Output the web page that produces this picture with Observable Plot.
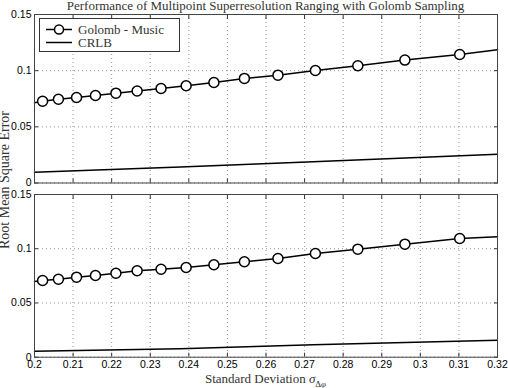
<!DOCTYPE html>
<html>
<head>
<meta charset="utf-8">
<script src="https://cdn.jsdelivr.net/npm/d3@7"></script>
<script src="https://cdn.jsdelivr.net/npm/@observablehq/plot@0.6"></script>
<style>
  html, body { margin: 0; padding: 0; background: #fff; }
  #wrap { position: relative; width: 508px; height: 388px; overflow: hidden; }
  .abs { position: absolute; }
  .serif { font-family: "Liberation Serif", "DejaVu Serif", serif; color: #333; }
  #title { left: 34px; width: 463px; top: -2px; text-align: center; font-size: 13px; line-height: 15px; white-space: nowrap; }
  #ylab { left: 4.8px; top: 180px; transform: translate(-50%, -50%) rotate(-90deg); font-size: 14px; white-space: nowrap; }
  #xlab { left: 34px; width: 463px; top: 371px; text-align: center; font-size: 13px; line-height: 15px; white-space: nowrap; }
  #xlab sub { font-size: 9px; }
  #legend { left: 39px; top: 18px; width: 139px; height: 32px; border: 1px solid #333; background: #fff; font-size: 13px; }
  .lrow { position: absolute; left: 5px; height: 13px; display: flex; align-items: center; }
  .lrow span { margin-left: 5px; }
  #p1 { left: 0; top: 0; }
  #p2 { left: 0; top: 188px; }
</style>
</head>
<body>
<div id="wrap">
  <div id="p1" class="abs"></div>
  <div id="p2" class="abs"></div>
  <div id="title" class="abs serif">Performance of Multipoint Superresolution Ranging with Golomb Sampling</div>
  <div id="ylab" class="abs serif">Root Mean Square Error</div>
  <div id="xlab" class="abs serif">Standard Deviation <i>σ</i><sub>Δ<i>φ</i></sub></div>
  <div id="legend" class="abs serif">
    <div class="lrow" style="top:4px"><svg width="28" height="13"><line x1="1" x2="27" y1="6.5" y2="6.5" stroke="#000" stroke-width="1.5"/><circle cx="14" cy="6.5" r="4.5" fill="#fff" stroke="#000" stroke-width="1.5"/></svg><span>Golomb - Music</span></div>
    <div class="lrow" style="top:17px"><svg width="28" height="13"><line x1="1" x2="27" y1="6.5" y2="6.5" stroke="#000" stroke-width="1.5"/></svg><span>CRLB</span></div>
  </div>
</div>
<script>
// ---- data ----
const xTicks = [0.2, 0.21, 0.22, 0.23, 0.24, 0.25, 0.26, 0.27, 0.28, 0.29, 0.3, 0.31, 0.32];
const yTicks = [0, 0.05, 0.1, 0.15];

// sample points (sigma values) of the Golomb - Music curve
const sigma = [0.2, 0.2021, 0.2062, 0.2109, 0.2158, 0.2211, 0.2266, 0.2328, 0.2393, 0.2465, 0.2544, 0.2631, 0.2728, 0.2838, 0.2960, 0.3102, 0.32];
// whether each sample is drawn with a marker
const marked = [false, true, true, true, true, true, true, true, true, true, true, true, true, true, true, true, false];

const musicTop    = [0.0714, 0.0728, 0.0746, 0.0761, 0.0779, 0.0800, 0.0819, 0.0841, 0.0866, 0.0895, 0.0931, 0.0960, 0.1002, 0.1044, 0.1094, 0.1144, 0.1186];
const musicBottom = [0.0698, 0.0707, 0.0719, 0.0738, 0.0753, 0.0774, 0.0797, 0.0811, 0.0827, 0.0852, 0.0880, 0.0910, 0.0956, 0.0996, 0.1042, 0.1094, 0.1110];

const crlbSigma  = [0.2, 0.2378, 0.2722, 0.32];
const crlbTop    = [0.0096, 0.0143, 0.0189, 0.0256];
const crlbBottom = [0.0055, 0.0079, 0.0114, 0.0157];

const noText = () => "";

function panel(music, crlb, opts) {
  const line = sigma.map((s, i) => ({s, v: music[i], m: marked[i]}));
  const cr = crlbSigma.map((s, i) => ({s, v: crlb[i]}));
  const marks = [
    Plot.gridX(xTicks, {stroke: "#888", strokeOpacity: 0.9, strokeDasharray: "1,3"}),
    Plot.gridY(yTicks, {stroke: "#888", strokeOpacity: 0.9, strokeDasharray: "1,3"}),
    Plot.axisX(xTicks, {anchor: "bottom", tickSize: -4, tickFormat: noText, label: null, stroke: "#333"}),
    Plot.axisX(xTicks, {anchor: "top", tickSize: -4, tickFormat: noText, label: null, stroke: "#333"}),
    Plot.axisY(yTicks, {anchor: "left", tickSize: -4, tickFormat: noText, label: null, stroke: "#333"}),
    Plot.axisY(yTicks, {anchor: "right", tickSize: -4, tickFormat: noText, label: null, stroke: "#333"}),
    Plot.axisY(yTicks, {anchor: "left", tickSize: 0, tickPadding: 3, tickFormat: d => String(d), label: null, fill: "#000", fontSize: 10.5}),
    Plot.line(cr, {x: "s", y: "v", stroke: "#000", strokeWidth: 1.5}),
    Plot.line(line, {x: "s", y: "v", stroke: "#000", strokeWidth: 1.5}),
    Plot.dot(line.filter(d => d.m), {x: "s", y: "v", r: 5, fill: "#fff", stroke: "#000", strokeWidth: 1.5}),
    Plot.frame({stroke: "#444", strokeWidth: 1})
  ];
  if (opts.xLabels) {
    marks.push(Plot.axisX(xTicks, {anchor: "bottom", tickSize: 0, tickPadding: 3, tickFormat: d => String(d), label: null, fill: "#000", fontSize: 10.5}));
  }
  return Plot.plot({
    width: 508,
    height: opts.height,
    marginLeft: 34,
    marginRight: 11,
    marginTop: opts.mt,
    marginBottom: opts.mb,
    style: {fontFamily: "'Liberation Sans', Arial, sans-serif", fontSize: "10.5px", background: "transparent", overflow: "visible"},
    x: {domain: [0.2, 0.32], axis: null},
    y: {domain: [0, 0.15], axis: null},
    marks
  });
}

document.getElementById("p1").appendChild(panel(musicTop, crlbTop, {height: 190, mt: 14, mb: 7.5, xLabels: false}));
document.getElementById("p2").appendChild(panel(musicBottom, crlbBottom, {height: 200, mt: 6, mb: 31.3, xLabels: true}));
</script>
</body>
</html>
